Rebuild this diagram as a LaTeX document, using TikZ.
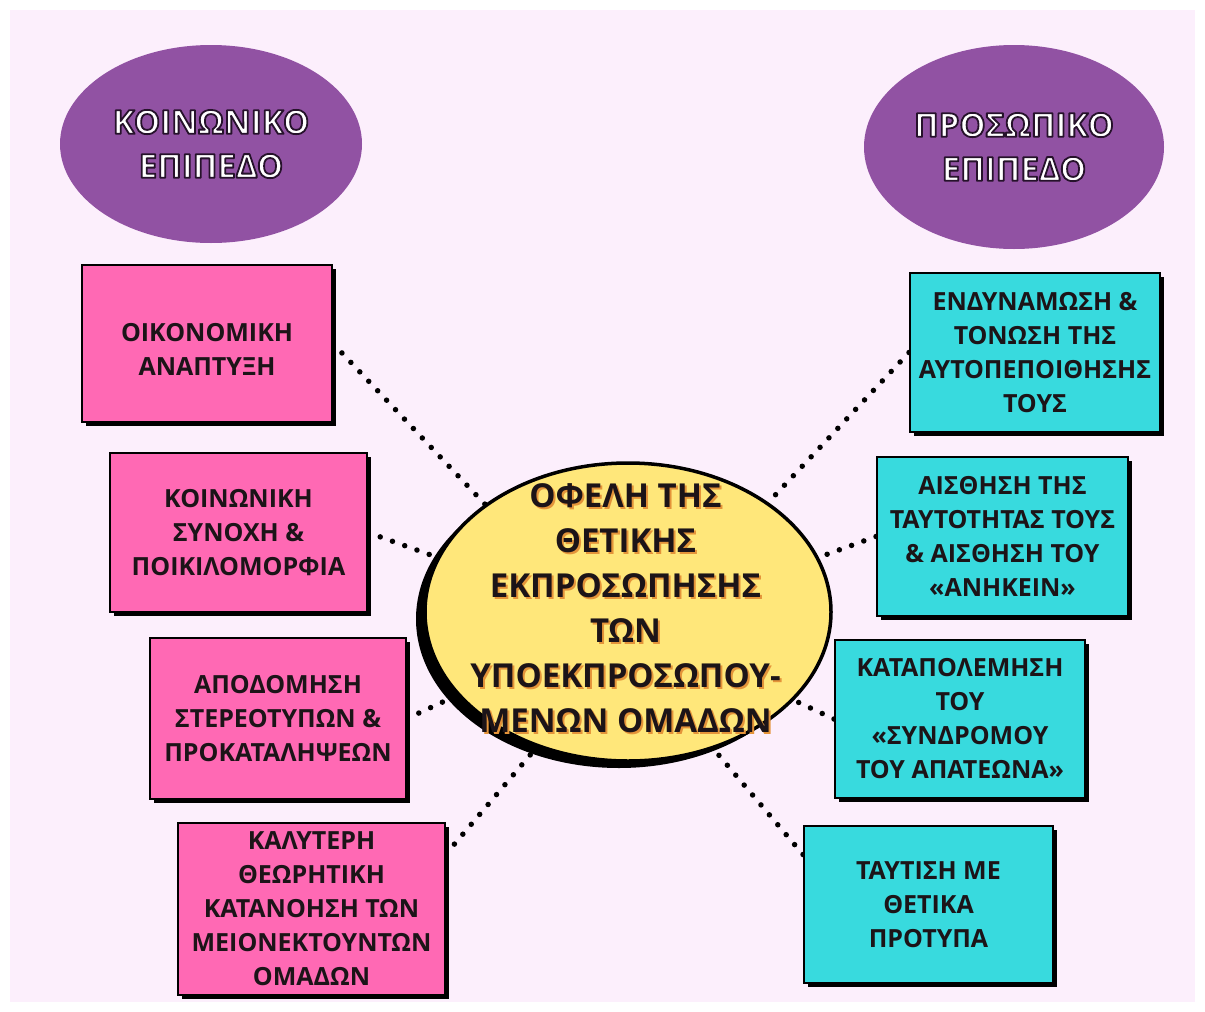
\documentclass[tikz,border=0pt]{standalone}
\usepackage{fontspec}
\setmainfont{Open Sans}
\usetikzlibrary{shapes.geometric,shadows,backgrounds}
\definecolor{bgc}{RGB}{252,239,252}
\definecolor{purplec}{RGB}{145,82,163}
\definecolor{pinkc}{RGB}{255,105,180}
\definecolor{cyanc}{RGB}{56,218,222}
\definecolor{yellowc}{RGB}{255,231,122}
\definecolor{txt}{RGB}{28,20,24}
\definecolor{shadowtxt}{RGB}{228,148,58}
\newcommand{\wt}[1]{\special{pdf:literal direct 0.15 0.07 0.17 RG 1.8 w 1 j 2 Tr}#1\special{pdf:literal direct 0 Tr 0 0 0 RG 0.4 w 0 j}}
\begin{document}
\begin{tikzpicture}[x=1pt,y=-1pt,
  boxtext/.style={font=\fontsize{25}{34}\selectfont\bfseries, text=txt, align=center},
  boxbase/.style={rectangle, draw=black, line width=2pt, inner sep=0pt, boxtext,
    drop shadow={shadow xshift=4pt, shadow yshift=-4pt, opacity=1, fill=black}},
  pinkbox/.style={boxbase, fill=pinkc},
  cyanbox/.style={boxbase, fill=cyanc},
  levelell/.style={ellipse, fill=purplec, inner sep=0pt, text=white,
    font=\fontsize{33}{44}\selectfont\bfseries, align=center},
  centerell/.style={ellipse, fill=yellowc, draw=black, line width=3.5pt, inner sep=0pt,
    drop shadow={shadow xshift=-9pt, shadow yshift=-7pt, opacity=1, fill=black}},
  centertext/.style={font=\fontsize{33}{45}\selectfont\bfseries, align=center},
  dots/.style={draw=black, line width=5.5pt, line cap=round, dash pattern=on 0pt off 13pt}
]
\useasboundingbox (0,0) rectangle (1205,1012);

% level ellipses
\node[levelell, minimum width=302pt, minimum height=198pt] (soc) at (211,144)
  {\wt{ΚΟΙΝΩΝΙΚΟ}\\\wt{ΕΠΙΠΕΔΟ}};
\node[levelell, minimum width=300pt, minimum height=204pt] (per) at (1014,147)
  {\wt{ΠΡΟΣΩΠΙΚΟ}\\\wt{ΕΠΙΠΕΔΟ}};

% left boxes
\node[pinkbox, minimum width=250pt, minimum height=157pt] (b1) at (207,343.5) {};
\node[boxtext] (t1) at (207,349) {ΟΙΚΟΝΟΜΙΚΗ\\ΑΝΑΠΤΥΞΗ};
\node[pinkbox, minimum width=257pt, minimum height=159pt] (b2) at (238.5,532.5)
  {ΚΟΙΝΩΝΙΚΗ\\ΣΥΝΟΧΗ \&\\ΠΟΙΚΙΛΟΜΟΡΦΙΑ};
\node[pinkbox, minimum width=256pt, minimum height=161pt] (b3) at (278,718.5)
  {ΑΠΟΔΟΜΗΣΗ\\ΣΤΕΡΕΟΤΥΠΩΝ \&\\ΠΡΟΚΑΤΑΛΗΨΕΩΝ};
\node[pinkbox, minimum width=267pt, minimum height=172pt] (b4) at (311.5,909)
  {ΚΑΛΥΤΕΡΗ\\ΘΕΩΡΗΤΙΚΗ\\ΚΑΤΑΝΟΗΣΗ ΤΩΝ\\ΜΕΙΟΝΕΚΤΟΥΝΤΩΝ\\ΟΜΑΔΩΝ};

% right boxes
\node[cyanbox, minimum width=250pt, minimum height=159pt] (b5) at (1035,352.5)
  {ΕΝΔΥΝΑΜΩΣΗ \&\\ΤΟΝΩΣΗ ΤΗΣ\\ΑΥΤΟΠΕΠΟΙΘΗΣΗΣ\\ΤΟΥΣ};
\node[cyanbox, minimum width=251pt, minimum height=159pt] (b6) at (1002.5,536.5)
  {ΑΙΣΘΗΣΗ ΤΗΣ\\ΤΑΥΤΟΤΗΤΑΣ ΤΟΥΣ\\\& ΑΙΣΘΗΣΗ ΤΟΥ\\«ΑΝΗΚΕΙΝ»};
\node[cyanbox, minimum width=250pt, minimum height=158pt] (b7) at (960,719)
  {ΚΑΤΑΠΟΛΕΜΗΣΗ\\ΤΟΥ\\«ΣΥΝΔΡΟΜΟΥ\\ΤΟΥ ΑΠΑΤΕΩΝΑ»};
\node[cyanbox, minimum width=249pt, minimum height=157pt] (b8) at (928.5,904.5)
  {ΤΑΥΤΙΣΗ ΜΕ\\ΘΕΤΙΚΑ\\ΠΡΟΤΥΠΑ};

% centre
\node[centerell, minimum width=406pt, minimum height=298pt] (c) at (628,612) {};
\node[centertext, text=shadowtxt] (cts) at (627.5,610)
  {ΟΦΕΛΗ ΤΗΣ\\ΘΕΤΙΚΗΣ\\ΕΚΠΡΟΣΩΠΗΣΗΣ\\ΤΩΝ\\ΥΠΟΕΚΠΡΟΣΩΠΟΥ-\\ΜΕΝΩΝ ΟΜΑΔΩΝ};
\node[centertext, text=txt] (ct) at (625.5,608)
  {ΟΦΕΛΗ ΤΗΣ\\ΘΕΤΙΚΗΣ\\ΕΚΠΡΟΣΩΠΗΣΗΣ\\ΤΩΝ\\ΥΠΟΕΚΠΡΟΣΩΠΟΥ-\\ΜΕΝΩΝ ΟΜΑΔΩΝ};

\begin{pgfonlayer}{background}
  \fill[white] (0,0) rectangle (1205,1012);
  \fill[bgc] (10,10) rectangle (1195,1002);
  \draw[dots] (b1.east) -- (c.143);
  \draw[dots] (b2.east) -- (c.164);
  \draw[dots] (b3.east) -- (c.206);
  \draw[dots] ([yshift=55pt]b4.east) -- (c.236);
  \draw[dots] (b5.west) -- (c.38);
  \draw[dots] (b6.west) -- (c.16);
  \draw[dots] (b7.west) -- (c.332);
  \draw[dots] ([yshift=50pt]b8.west) -- (c.302);
\end{pgfonlayer}
\end{tikzpicture}
\end{document}
